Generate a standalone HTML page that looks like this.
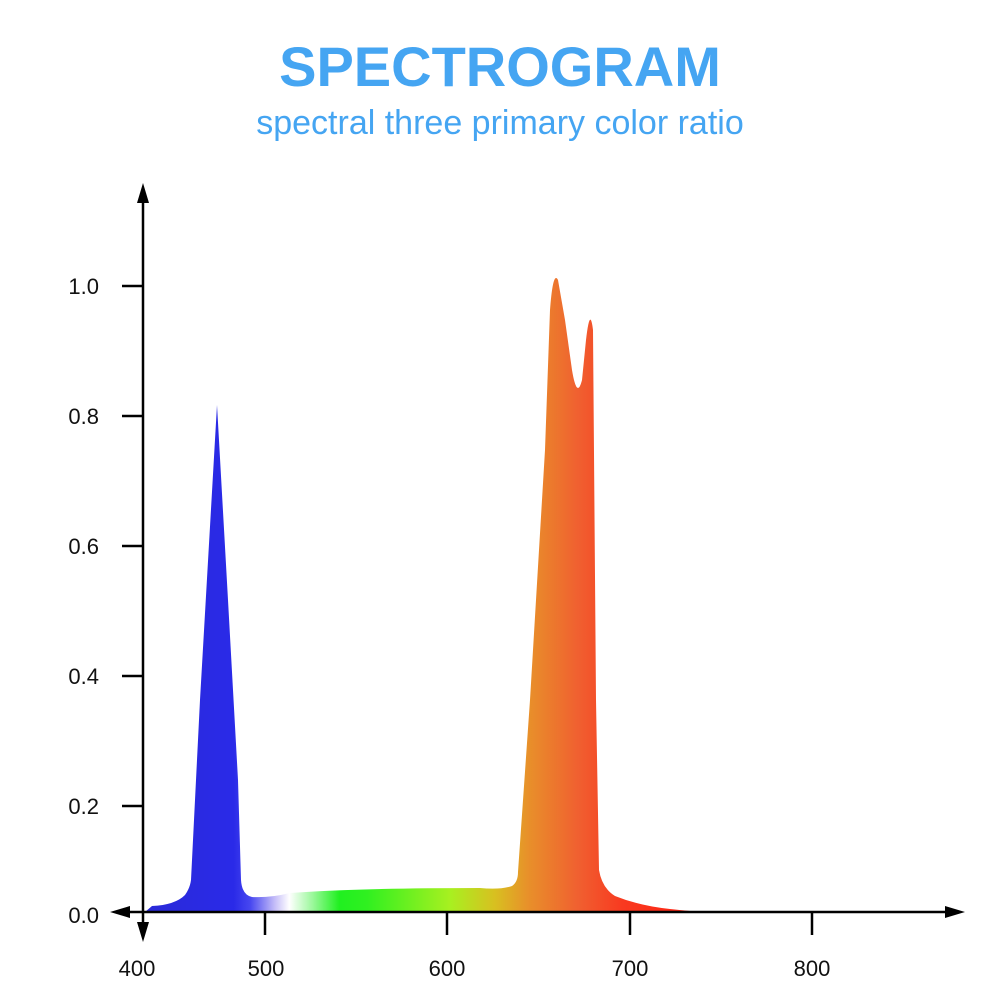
<!DOCTYPE html>
<html><head><meta charset="utf-8"><style>
body{margin:0;background:#fff;}
svg{display:block}
</style></head><body>
<svg width="1000" height="1000" xmlns="http://www.w3.org/2000/svg">
<defs>
<linearGradient id="g" x1="145" y1="0" x2="700" y2="0" gradientUnits="userSpaceOnUse">
<stop offset="0" stop-color="#2a2ad8"/>
<stop offset="0.16" stop-color="#2a2ae8"/>
<stop offset="0.19" stop-color="#4848f0"/>
<stop offset="0.235" stop-color="#c8c0f8"/>
<stop offset="0.26" stop-color="#ffffff"/>
<stop offset="0.30" stop-color="#a0f8a0"/>
<stop offset="0.35" stop-color="#20f020"/>
<stop offset="0.40" stop-color="#30f020"/>
<stop offset="0.55" stop-color="#a8f020"/>
<stop offset="0.63" stop-color="#d8c020"/>
<stop offset="0.69" stop-color="#e8902a"/>
<stop offset="0.78" stop-color="#f06030"/>
<stop offset="0.86" stop-color="#f83a20"/>
<stop offset="1" stop-color="#ff2010"/>
</linearGradient>
</defs>
<text x="500" y="86" text-anchor="middle" font-family="Liberation Sans, sans-serif" font-weight="bold" font-size="56" fill="#45a5f2">SPECTROGRAM</text>
<text x="500" y="134" text-anchor="middle" font-family="Liberation Sans, sans-serif" font-size="34" fill="#45a5f2">spectral three primary color ratio</text>

<path fill="url(#g)" d="M145,912 L152,906 Q175,905 185,895 Q190,888 191,880 L200,700 L217,405 L228,600 L238,780 L241,880 Q242,895 252,897 Q270,898 290,893 Q360,888 480,888 Q500,890 512,886 Q518,882 518,872 L530,700 L545,450 L550,310 Q553,270 558,280 L565,320 L572,370 Q577,400 582,380 L586,340 Q590,305 593,330 L596,700 L599,870 Q602,888 615,896 Q640,906 670,909 Q690,911 700,912 Z"/>

<g stroke="#000" stroke-width="2.5" fill="none">
<line x1="143" y1="198" x2="143" y2="925"/>
<line x1="125" y1="912" x2="950" y2="912"/>
<line x1="122" y1="286" x2="143" y2="286"/>
<line x1="122" y1="416" x2="143" y2="416"/>
<line x1="122" y1="546" x2="143" y2="546"/>
<line x1="122" y1="676" x2="143" y2="676"/>
<line x1="122" y1="806" x2="143" y2="806"/>
<line x1="265" y1="912" x2="265" y2="935"/>
<line x1="447" y1="912" x2="447" y2="935"/>
<line x1="630" y1="912" x2="630" y2="935"/>
<line x1="812" y1="912" x2="812" y2="935"/>
</g>
<polygon points="143,183 137,203 149,203" fill="#000"/>
<polygon points="143,942 137,922 149,922" fill="#000"/>
<polygon points="110,912 130,906 130,918" fill="#000"/>
<polygon points="965,912 945,906 945,918" fill="#000"/>

<g font-family="Liberation Sans, sans-serif" font-size="22" fill="#111" text-anchor="end">
<text x="99" y="294">1.0</text>
<text x="99" y="424">0.8</text>
<text x="99" y="554">0.6</text>
<text x="99" y="684">0.4</text>
<text x="99" y="814">0.2</text>
<text x="99" y="923">0.0</text>
</g>
<g font-family="Liberation Sans, sans-serif" font-size="22" fill="#111" text-anchor="middle">
<text x="137" y="976">400</text>
<text x="266" y="976">500</text>
<text x="447" y="976">600</text>
<text x="630" y="976">700</text>
<text x="812" y="976">800</text>
</g>
</svg>
</body></html>
